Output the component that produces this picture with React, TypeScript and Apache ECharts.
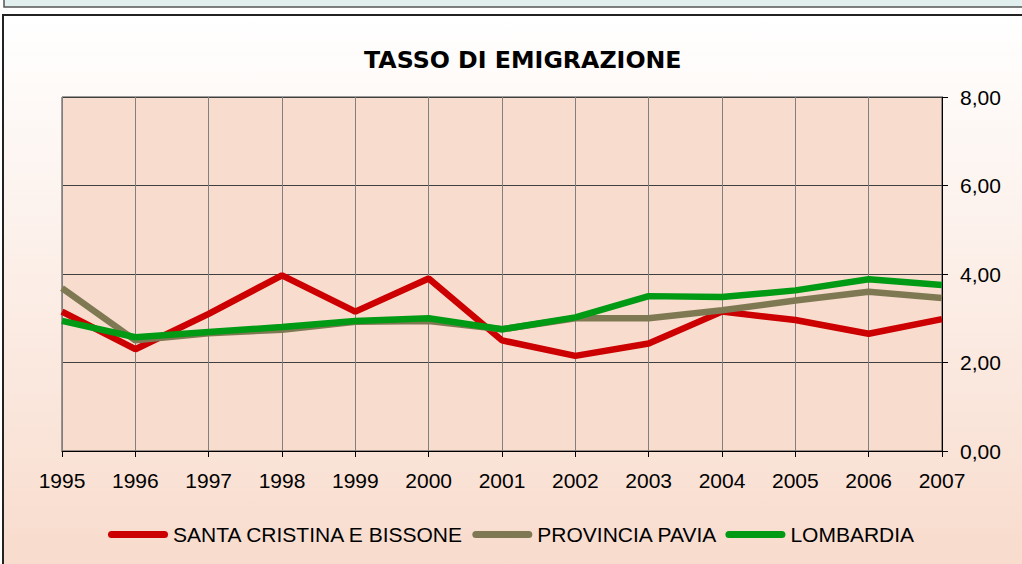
import React, { useEffect, useRef } from "react";
import * as echarts from "echarts";

const years = ["1995","1996","1997","1998","1999","2000","2001","2002","2003","2004","2005","2006","2007"];
const santaCristina = [3.15, 2.3, 3.1, 3.97, 3.15, 3.9, 2.5, 2.15, 2.43, 3.15, 2.96, 2.65, 2.98];
const provinciaPavia = [3.68, 2.5, 2.66, 2.74, 2.92, 2.94, 2.75, 3.0, 3.0, 3.18, 3.4, 3.6, 3.46];
const lombardia = [2.94, 2.57, 2.69, 2.8, 2.94, 3.0, 2.75, 3.02, 3.5, 3.48, 3.63, 3.88, 3.75];
const seriesNames = ["SANTA CRISTINA E BISSONE", "PROVINCIA PAVIA", "LOMBARDIA"];
const seriesColors = ["#CC0000", "#7F7953", "#009A14"];
const yTicks = { min: 0, max: 8, interval: 2 };

export default function App() {
  const ref = useRef<HTMLDivElement>(null);
  useEffect(() => {
    if (!ref.current) return;
    const chart = echarts.init(ref.current, null, { renderer: "svg" });
    const data = [santaCristina, provinciaPavia, lombardia];
    const capsule = "path://M3.5,0 H56.5 A3.5,3.5 0 0 1 56.5,7 H3.5 A3.5,3.5 0 0 1 3.5,0 Z";
    chart.setOption({
      animation: false,
      backgroundColor: "#ffffff",
      graphic: [
        {
          type: "rect",
          z: -10,
          shape: { x: 3, y: 15, width: 1040, height: 560 },
          style: {
            fill: new echarts.graphic.LinearGradient(0, 0, 0, 1, [
              { offset: 0, color: "#FFFFFF" },
              { offset: 1, color: "#F8DBCC" },
            ]),
            stroke: "#222222",
            lineWidth: 2,
          },
        },
        {
          type: "rect",
          z: -10,
          shape: { x: 4, y: -6, width: 1040, height: 13 },
          style: { fill: "#E2EFEF", stroke: "#555555", lineWidth: 1.5 },
        },
      ],
      title: {
        text: "TASSO DI EMIGRAZIONE",
        left: 359,
        top: 43,
        textStyle: {
          fontFamily: "DejaVu Sans",
          fontWeight: "bold",
          fontSize: 23.7,
          color: "#000000",
        },
      },
      legend: {
        left: 108,
        top: 524,
        padding: 0,
        itemWidth: 60,
        itemHeight: 7,
        itemGap: 8,
        icon: capsule,
        textStyle: { fontFamily: "Liberation Sans", fontSize: 21, color: "#000000" },
        data: seriesNames,
      },
      grid: {
        left: 62,
        right: 80,
        top: 97,
        bottom: 113,
        show: true,
        backgroundColor: "#F8DCCE",
        borderColor: "#404040",
        borderWidth: 1,
      },
      xAxis: {
        type: "category",
        data: years,
        boundaryGap: false,
        axisLine: { show: true, lineStyle: { color: "#000000", width: 1 } },
        axisTick: { show: true, length: 6, lineStyle: { color: "#000000" } },
        axisLabel: { fontFamily: "Liberation Sans", fontSize: 21, color: "#000000", margin: 19 },
        splitLine: { show: true, lineStyle: { color: "#808080", width: 1 } },
      },
      yAxis: {
        type: "value",
        position: "right",
        min: yTicks.min,
        max: yTicks.max,
        interval: yTicks.interval,
        axisLine: { show: true, lineStyle: { color: "#000000", width: 1 } },
        axisTick: { show: true, length: 6, lineStyle: { color: "#000000" } },
        axisLabel: {
          fontFamily: "Liberation Sans",
          fontSize: 21,
          color: "#000000",
          margin: 18,
          formatter: (v: number) => v.toFixed(2).replace(".", ","),
        },
        splitLine: { show: true, lineStyle: { color: "#404040", width: 1 } },
      },
      series: seriesNames.map((name, i) => ({
        name,
        type: "line",
        data: data[i],
        showSymbol: false,
        symbol: "none",
        color: seriesColors[i],
        lineStyle: { color: seriesColors[i], width: 6.5 },
      })),
    });
    return () => chart.dispose();
  }, []);
  return (
    <div
      ref={ref}
      style={{ position: "fixed", left: 0, top: 0, width: 1022, height: 564 }}
    />
  );
}
